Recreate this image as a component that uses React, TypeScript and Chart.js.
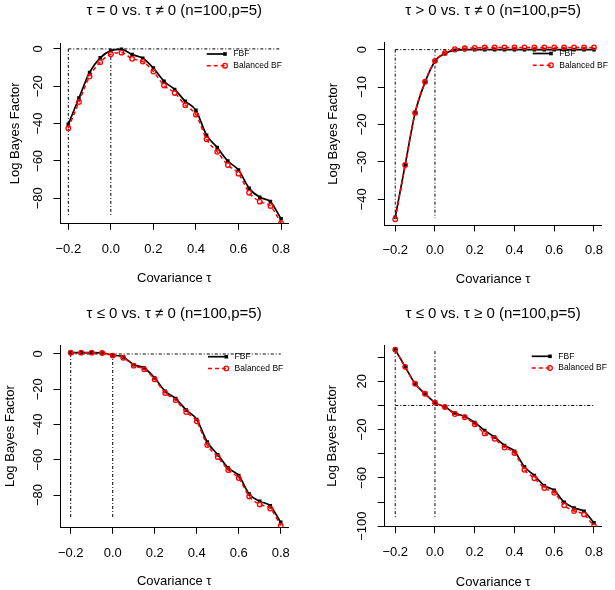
import React, { useEffect, useRef } from 'react';
import { Chart, registerables } from 'chart.js';

Chart.register(...registerables);

const FONT = '"Liberation Sans", Arial, Helvetica, sans-serif';

// ---------- data ----------
const tau = [-0.2, -0.15, -0.1, -0.05, 0, 0.05, 0.1, 0.15, 0.2, 0.25, 0.3, 0.35, 0.4, 0.45, 0.5, 0.55, 0.6, 0.65, 0.7, 0.75, 0.8];
const xTicks = [-0.2, 0, 0.2, 0.4, 0.6, 0.8];
const seriesNames = ['FBF', 'Balanced BF'];
const xAxisTitle = 'Covariance τ';
const yAxisTitle = 'Log Bayes Factor';

const titles = [
  'τ = 0 vs. τ ≠ 0 (n=100,p=5)',
  'τ > 0 vs. τ ≠ 0 (n=100,p=5)',
  'τ ≤ 0 vs. τ ≠ 0 (n=100,p=5)',
  'τ ≤ 0 vs. τ ≥ 0 (n=100,p=5)',
];

const p1Fbf = [-40.4, -26.3, -12.6, -4.8, -0.9, -0.2, -3.0, -5.0, -10.3, -17.4, -21.7, -28.1, -32.9, -46.2, -52.8, -60.1, -64.9, -74.7, -79.5, -81.8, -91.0];
const p1Bbf = [-42.5, -28.4, -14.8, -7.1, -2.8, -2.0, -5.3, -6.8, -12.1, -19.6, -23.6, -30.2, -35.2, -48.4, -55.1, -62.2, -66.8, -77.0, -81.8, -84.1, -93.3];

const p2Fbf = [-44.8, -30.8, -16.9, -8.7, -3.1, -1.0, -0.2, 0, 0, 0, 0, 0, 0, 0, 0, 0, 0, 0, 0, 0, 0];
const p2Bbf = [-45.3, -30.8, -16.9, -8.6, -3.0, -0.9, 0.1, 0.35, 0.45, 0.55, 0.6, 0.6, 0.6, 0.6, 0.6, 0.6, 0.6, 0.6, 0.6, 0.6, 0.6];

const p3Fbf = [0.75, 0.75, 0.75, 0.6, -0.6, -1.7, -6.1, -7.9, -13.6, -21.2, -25.3, -31.8, -37.1, -49.9, -57.1, -64.7, -69.0, -79.4, -83.6, -86.1, -95.5];
const p3Bbf = [0.75, 0.75, 0.75, 0.6, -0.9, -2.1, -6.6, -8.7, -14.4, -22.1, -26.3, -32.9, -38.2, -51.6, -58.4, -65.8, -70.4, -80.8, -85.3, -87.6, -97.4];

const p4Fbf = [46.3, 32.0, 18.0, 9.7, 2.4, -1.3, -6.3, -9.1, -14.1, -20.8, -26.2, -33.1, -37.9, -50.8, -58.0, -66.4, -70.3, -80.1, -84.9, -87.7, -97.2];
const p4Bbf = [46.3, 32.0, 18.0, 9.7, 2.4, -1.3, -7.1, -9.7, -15.5, -23.1, -27.6, -34.8, -39.3, -53.3, -60.3, -68.4, -72.3, -82.7, -87.4, -90.2, -100.0];

const p1YTicks = [0, -20, -40, -60, -80];
const p2YTicks = [0, -10, -20, -30, -40];
const p3YTicks = [0, -20, -40, -60, -80];
const p4YTicks = [40, 20, 0, -20, -40, -60, -80, -100];
const p4YLabels = [20, -20, -60, -100];

// reference (dot-dash) lines: horizontal at y = 0 from x = -0.2 to 0.8, vertical at x = -0.2 and x = 0
const refX = [-0.2, 0];
const refY = 0;
const vLineTop = [0, 0, 0, 45];
const vLineBottom = [-90, -45, -93.6, -93];

// ---------- layout (not data) ----------
type Panel = {
  title: string;
  fbf: number[];
  bbf: number[];
  yTicks: number[];
  yLabels: number[];
  xMin: number; xMax: number; yMin: number; yMax: number;
  vTop: number; vBottom: number;
  left: number; top: number; width: number; height: number;
  yAxisW: number; xAxisH: number; padRight: number;
  tPadTop: number; tPadBottom: number;
  yTitlePad: number; yTickPad: number; xTickPad: number; xTitlePad: number;
  legX: number; legY: number;
};

const panels: Panel[] = [
  {
    title: titles[0], fbf: p1Fbf, bbf: p1Bbf, yTicks: p1YTicks, yLabels: p1YTicks,
    xMin: -0.239, xMax: 0.835, yMin: -93.4, yMax: 3.0, vTop: vLineTop[0], vBottom: vLineBottom[0],
    left: 0, top: 0, width: 307, height: 295,
    yAxisW: 60, xAxisH: 71.7, padRight: 18.5, tPadTop: 2, tPadBottom: 23.3,
    yTitlePad: 7.5, yTickPad: 4, xTickPad: 11.5, xTitlePad: 9.2, legX: 206.7, legY: 54,
  },
  {
    title: titles[1], fbf: p2Fbf, bbf: p2Bbf, yTicks: p2YTicks, yLabels: p2YTicks,
    xMin: -0.255, xMax: 0.84, yMin: -46.85, yMax: 1.85, vTop: vLineTop[1], vBottom: vLineBottom[1],
    left: 307, top: 0, width: 308, height: 295,
    yAxisW: 77.3, xAxisH: 70, padRight: 1.3, tPadTop: 2, tPadBottom: 22.7,
    yTitlePad: 18.2, yTickPad: 4, xTickPad: 11.5, xTitlePad: 8.2, legX: 225.7, legY: 53.5,
  },
  {
    title: titles[2], fbf: p3Fbf, bbf: p3Bbf, yTicks: p3YTicks, yLabels: p3YTicks,
    xMin: -0.251, xMax: 0.836, yMin: -98.3, yMax: 5.1, vTop: vLineTop[2], vBottom: vLineBottom[2],
    left: 0, top: 295, width: 307, height: 295,
    yAxisW: 60, xAxisH: 62.7, padRight: 18.7, tPadTop: 10, tPadBottom: 22,
    yTitlePad: 3, yTickPad: 4, xTickPad: 11.5, xTitlePad: 0.5, legX: 208, legY: 61.7,
  },
  {
    title: titles[3], fbf: p4Fbf, bbf: p4Bbf, yTicks: p4YTicks, yLabels: p4YLabels,
    xMin: -0.255, xMax: 0.84, yMin: -100.4, yMax: 50.1, vTop: vLineTop[3], vBottom: vLineBottom[3],
    left: 307, top: 295, width: 308, height: 295,
    yAxisW: 77.3, xAxisH: 63.3, padRight: 1.3, tPadTop: 10, tPadBottom: 22,
    yTitlePad: 17.7, yTickPad: 0.5, xTickPad: 11.5, xTitlePad: 0, legX: 224.7, legY: 61.3,
  },
];

const fmt = (v: number, digits: number) => {
  const s = v.toFixed(digits);
  return s.startsWith('-') ? '\u2212' + s.slice(1) : s;
};

const legendPlugin = {
  id: 'rLegend',
  afterDraw(chart: any, _args: any, opts: any) {
    const { ctx } = chart;
    const { x, y } = opts;
    const len = 18.3;
    const gap = 11.7;
    const textX = x + len + 8.3;
    ctx.save();
    // FBF
    ctx.setLineDash([]);
    ctx.strokeStyle = '#000';
    ctx.lineWidth = 1.7;
    ctx.beginPath();
    ctx.moveTo(x, y);
    ctx.lineTo(x + len, y);
    ctx.stroke();
    ctx.fillStyle = '#000';
    ctx.fillRect(x + len - 1.8, y - 1.8, 3.6, 3.6);
    // Balanced BF
    ctx.strokeStyle = '#ff0000';
    ctx.lineWidth = 1.5;
    ctx.setLineDash([4, 3]);
    ctx.beginPath();
    ctx.moveTo(x, y + gap);
    ctx.lineTo(x + len, y + gap);
    ctx.stroke();
    ctx.setLineDash([]);
    ctx.lineWidth = 1.3;
    ctx.beginPath();
    ctx.arc(x + len, y + gap, 2.3, 0, Math.PI * 2);
    ctx.stroke();
    ctx.fillStyle = '#000';
    ctx.font = `8.5px ${FONT}`;
    ctx.textBaseline = 'middle';
    ctx.textAlign = 'left';
    ctx.fillText(seriesNames[0], textX, y);
    ctx.fillText(seriesNames[1], textX, y + gap);
    ctx.restore();
  },
};

const DOTDASH = [3, 2, 1, 2];

function PanelChart({ p }: { p: Panel }) {
  const ref = useRef<HTMLCanvasElement | null>(null);
  useEffect(() => {
    if (!ref.current) return;
    const refLine = (pts: { x: number; y: number }[]) => ({
      type: 'line' as const,
      data: pts,
      borderColor: '#000',
      borderWidth: 1,
      borderDash: DOTDASH,
      pointRadius: 0,
      fill: false,
      tension: 0,
      order: 3,
    });
    const chart = new Chart(ref.current, {
      type: 'line',
      data: {
        datasets: [
          refLine([{ x: tau[0], y: refY }, { x: tau[tau.length - 1], y: refY }]),
          refLine([{ x: refX[0], y: p.vTop }, { x: refX[0], y: p.vBottom }]),
          refLine([{ x: refX[1], y: p.vTop }, { x: refX[1], y: p.vBottom }]),
          {
            label: seriesNames[0],
            data: tau.map((t, i) => ({ x: t, y: p.fbf[i] })),
            borderColor: '#000',
            backgroundColor: '#000',
            borderWidth: 1.7,
            pointStyle: 'rect',
            pointRadius: 2.5,
            pointBorderWidth: 0,
            pointBackgroundColor: '#000',
            cubicInterpolationMode: 'monotone',
            fill: false,
            order: 2,
          },
          {
            label: seriesNames[1],
            data: tau.map((t, i) => ({ x: t, y: p.bbf[i] })),
            borderColor: '#ff0000',
            backgroundColor: 'rgba(0,0,0,0)',
            borderWidth: 1.5,
            borderDash: [4, 3],
            pointStyle: 'circle',
            pointRadius: 2.3,
            pointBorderWidth: 1.3,
            pointBorderColor: '#ff0000',
            pointBackgroundColor: 'rgba(0,0,0,0)',
            cubicInterpolationMode: 'monotone',
            fill: false,
            order: 1,
          },
        ],
      },
      options: {
        responsive: false,
        animation: false,
        devicePixelRatio: 1,
        events: [],
        layout: { padding: { left: 0, top: 0, bottom: 0, right: p.padRight } },
        plugins: {
          legend: { display: false },
          tooltip: { enabled: false },
          title: {
            display: true,
            fullSize: false,
            text: p.title,
            color: '#000',
            font: { family: FONT, size: 15, weight: 'normal' },
            padding: { top: p.tPadTop, bottom: p.tPadBottom },
          },
          rLegend: { x: p.legX, y: p.legY },
        } as any,
        scales: {
          x: {
            type: 'linear',
            min: p.xMin,
            max: p.xMax,
            afterBuildTicks: (s: any) => {
              s.ticks = xTicks.map((v) => ({ value: v }));
            },
            afterFit: (s: any) => {
              s.height = p.xAxisH;
            },
            ticks: {
              autoSkip: false,
              minRotation: 0,
              maxRotation: 0,
              padding: p.xTickPad,
              color: '#000',
              font: { family: FONT, size: 13 },
              callback: (v: any) => fmt(Number(v), 1),
            },
            grid: { display: true, drawOnChartArea: false, drawTicks: true, tickLength: 6.5, tickColor: '#000', tickWidth: 1 },
            border: { display: true, color: '#000', width: 1 },
            title: {
              display: true,
              text: xAxisTitle,
              color: '#000',
              font: { family: FONT, size: 13 },
              padding: { top: 0, bottom: p.xTitlePad },
            },
          },
          y: {
            type: 'linear',
            min: p.yMin,
            max: p.yMax,
            afterBuildTicks: (s: any) => {
              s.ticks = p.yTicks.map((v) => ({ value: v }));
            },
            afterFit: (s: any) => {
              s.width = p.yAxisW;
            },
            ticks: {
              autoSkip: false,
              minRotation: 90,
              maxRotation: 90,
              crossAlign: 'center',
              padding: p.yTickPad,
              color: '#000',
              font: { family: FONT, size: 13 },
              callback: (v: any) => (p.yLabels.includes(Number(v)) ? fmt(Number(v), 0) : ''),
            },
            grid: { display: true, drawOnChartArea: false, drawTicks: true, tickLength: 6.5, tickColor: '#000', tickWidth: 1 },
            border: { display: true, color: '#000', width: 1 },
            title: {
              display: true,
              text: yAxisTitle,
              color: '#000',
              font: { family: FONT, size: 13 },
              padding: { top: p.yTitlePad, bottom: 0 },
            },
          },
        },
      } as any,
      plugins: [legendPlugin],
    });
    return () => chart.destroy();
  }, [p]);
  return (
    <canvas
      ref={ref}
      width={p.width}
      height={p.height}
      style={{ position: 'absolute', left: p.left, top: p.top, width: p.width, height: p.height }}
    />
  );
}

export default function App() {
  return (
    <div style={{ position: 'absolute', left: 0, top: 0, width: 615, height: 590, background: '#fff', overflow: 'hidden' }}>
      {panels.map((p, i) => (
        <PanelChart key={i} p={p} />
      ))}
    </div>
  );
}
